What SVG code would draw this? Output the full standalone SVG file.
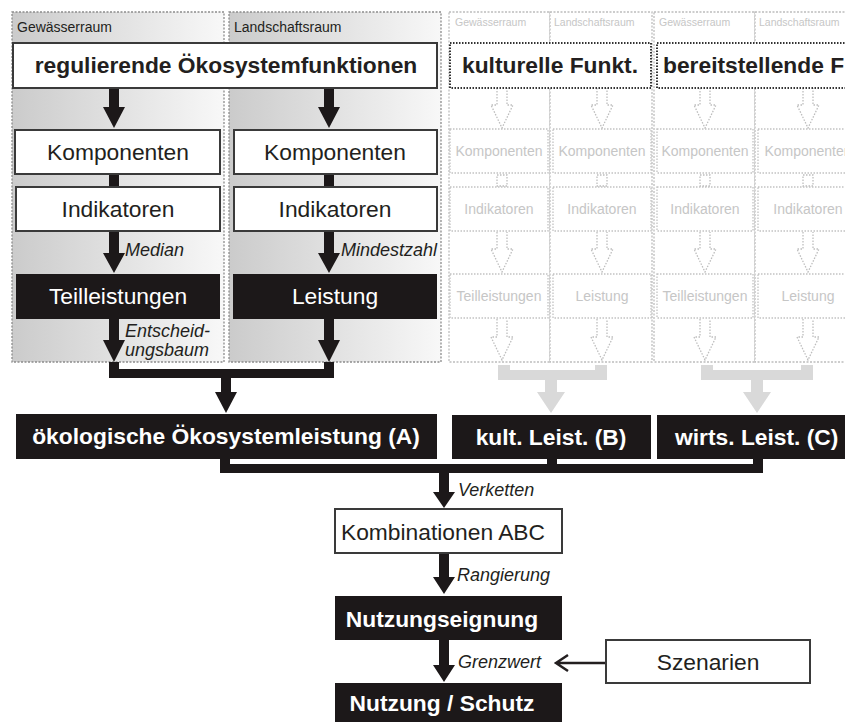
<svg xmlns="http://www.w3.org/2000/svg" width="845" height="722" viewBox="0 0 845 722">
<defs>
<linearGradient id="pg" x1="0" y1="0" x2="1" y2="0">
<stop offset="0" stop-color="#cbcbcb"/>
<stop offset="1" stop-color="#f8f8f8"/>
</linearGradient>
</defs>
<style>
text{font-family:"Liberation Sans",Arial,sans-serif;fill:#231f20}
.b{font-weight:bold}
.w{fill:#ffffff}
.it{font-style:italic;font-size:18px}
.m{font-size:22.8px}
.sm{font-size:14px}
.panel{fill:url(#pg);stroke:#8c8c8c;stroke-width:1.3;stroke-dasharray:2 1.5}
.fpanel{fill:#ffffff;stroke:#bdbdbd;stroke-width:1.3;stroke-dasharray:2 1.5}
.wbox{fill:#ffffff;stroke:#3a3a3a;stroke-width:2}
.kbox{fill:#1c1819}
.fbox{fill:#ffffff;stroke:#c2c2c2;stroke-width:1.3;stroke-dasharray:1.5 1.5}
.tbox{fill:#ffffff;stroke:#333;stroke-width:2;stroke-dasharray:1.5 1.5}
.ft{fill:#c6c6c6;font-size:14px}
.fl{fill:#c6c6c6;font-size:10.5px}
.arr{fill:#1c1819}
.harr{fill:none;stroke:#bdbdbd;stroke-width:1.3;stroke-dasharray:1.5 1.5}
.garr{fill:#d9d9d9}
</style>

<!-- panels -->
<g id="panel-gewaesser">
<rect class="panel" x="12" y="12" width="212" height="350"/>
<text class="sm" x="17" y="32">Gewässerraum</text>
</g>
<g id="panel-landschaft">
<rect class="panel" x="229" y="12" width="212" height="350"/>
<text class="sm" x="234" y="32">Landschaftsraum</text>
</g>
<g id="fpanels">
<rect class="fpanel" x="449" y="12" width="101" height="350"/>
<rect class="fpanel" x="550" y="12" width="102" height="350"/>
<rect class="fpanel" x="654" y="12" width="101" height="350"/>
<rect class="fpanel" x="755" y="12" width="102" height="350"/>
<text class="fl" x="455" y="26">Gewässerraum</text>
<text class="fl" x="554" y="26">Landschaftsraum</text>
<text class="fl" x="659" y="26">Gewässerraum</text>
<text class="fl" x="759" y="26">Landschaftsraum</text>
</g>

<!-- connectors -->
<g id="connectors">
<path class="arr" d="M109 88H119V107H125L114 128L103 107H109Z"/>
<path class="arr" d="M324 88H334V107H340L329 128L318 107H324Z"/>
<rect class="arr" x="109" y="173" width="10" height="15"/>
<rect class="arr" x="324" y="173" width="10" height="15"/>
<path class="arr" d="M109 231H119V253H125L114 273L103 253H109Z"/>
<path class="arr" d="M324 231H334V253H340L329 273L318 253H324Z"/>
<path class="arr" d="M109 319H119V340H125L114 362L103 340H109Z"/>
<path class="arr" d="M324 319H334V340H340L329 362L318 340H324Z"/>
<path class="arr" d="M109 362H119V369H324V362H334V378H231V392H237L226 413L215 392H221V378H109Z"/>
<path class="harr" d="M497 88V105H491L502 128L513 105H507V88"/>
<path class="harr" d="M597 88V105H591L602 128L613 105H607V88"/>
<path class="harr" d="M700 88V105H694L705 128L716 105H710V88"/>
<path class="harr" d="M803 88V105H797L808 128L819 105H813V88"/>
<rect class="harr" x="497" y="175" width="10" height="11"/>
<rect class="harr" x="597" y="175" width="10" height="11"/>
<rect class="harr" x="700" y="175" width="10" height="11"/>
<rect class="harr" x="803" y="175" width="10" height="11"/>
<path class="harr" d="M497 232V249H491L502 272L513 249H507V232"/>
<path class="harr" d="M597 232V249H591L602 272L613 249H607V232"/>
<path class="harr" d="M700 232V249H694L705 272L716 249H710V232"/>
<path class="harr" d="M803 232V249H797L808 272L819 249H813V232"/>
<path class="harr" d="M497 319V337H491L502 360L513 337H507V319"/>
<path class="harr" d="M597 319V337H591L602 360L613 337H607V319"/>
<path class="harr" d="M700 319V337H694L705 360L716 337H710V319"/>
<path class="harr" d="M803 319V337H797L808 360L819 337H813V319"/>
<path class="garr" d="M498 365H510V370H595V365H607V380H557V392H565L551 413L537 392H545V380H498Z"/>
<path class="garr" d="M701 365H713V370H801V365H813V380H763V392H771L757 413L743 392H751V380H701Z"/>
<path class="arr" d="M220 458H230V464H547V458H557V464H753V458H763V473H449V492H455L444 508L433 492H439V473H220Z"/>
<path class="arr" d="M439 553H449V577H455L444 594L433 577H439Z"/>
<path class="arr" d="M439 640H449V665H455L444 682L433 665H439Z"/>
<path d="M606 663H556M568 655L556 663L568 671" fill="none" stroke="#231f20" stroke-width="2.5"/>
<text class="it" x="125" y="256">Median</text>
<text class="it" x="341" y="256">Mindestzahl</text>
<text class="it" x="125" y="337">Entscheid-</text>
<text class="it" x="125" y="356">ungsbaum</text>
<text class="it" x="458" y="496">Verketten</text>
<text class="it" x="457" y="581">Rangierung</text>
<text class="it" x="458" y="668">Grenzwert</text>
</g>

<!-- nodes -->
<g id="regulierende">
<rect class="wbox" x="13" y="43" width="424" height="45"/>
<text class="b m" x="226" y="73" text-anchor="middle">regulierende Ökosystemfunktionen</text>
</g>
<g id="komp-g">
<rect class="wbox" x="15" y="130" width="205" height="44"/>
<text class="m" x="118" y="160" text-anchor="middle">Komponenten</text>
</g>
<g id="komp-l">
<rect class="wbox" x="234" y="130" width="203" height="44"/>
<text class="m" x="335" y="160" text-anchor="middle">Komponenten</text>
</g>
<g id="ind-g">
<rect class="wbox" x="16" y="187" width="204" height="44"/>
<text class="m" x="118" y="217" text-anchor="middle">Indikatoren</text>
</g>
<g id="ind-l">
<rect class="wbox" x="234" y="187" width="203" height="44"/>
<text class="m" x="335" y="217" text-anchor="middle">Indikatoren</text>
</g>
<g id="teil-g">
<rect class="kbox" x="16" y="274" width="204" height="45"/>
<text class="m w" x="118" y="304" text-anchor="middle">Teilleistungen</text>
</g>
<g id="leist-l">
<rect class="kbox" x="233" y="274" width="204" height="45"/>
<text class="m w" x="335" y="304" text-anchor="middle">Leistung</text>
</g>

<g id="kulturelle">
<rect class="tbox" x="450" y="43" width="201" height="45"/>
<text class="b m" x="550" y="73" text-anchor="middle">kulturelle Funkt.</text>
</g>
<g id="bereitstellende">
<rect class="tbox" x="657" y="43" width="210" height="45"/>
<text class="b m" x="663" y="73">bereitstellende F</text>
</g>
<g id="faded-nodes">
<rect class="fbox" x="450" y="129" width="98" height="44"/>
<rect class="fbox" x="553" y="129" width="98" height="44"/>
<rect class="fbox" x="657" y="129" width="96" height="44"/>
<rect class="fbox" x="758" y="129" width="98" height="44"/>
<text class="ft" x="499" y="156" text-anchor="middle">Komponenten</text>
<text class="ft" x="602" y="156" text-anchor="middle">Komponenten</text>
<text class="ft" x="705" y="156" text-anchor="middle">Komponenten</text>
<text class="ft" x="808" y="156" text-anchor="middle">Komponenten</text>
<rect class="fbox" x="450" y="187" width="98" height="44"/>
<rect class="fbox" x="553" y="187" width="98" height="44"/>
<rect class="fbox" x="657" y="187" width="96" height="44"/>
<rect class="fbox" x="758" y="187" width="98" height="44"/>
<text class="ft" x="499" y="214" text-anchor="middle">Indikatoren</text>
<text class="ft" x="602" y="214" text-anchor="middle">Indikatoren</text>
<text class="ft" x="705" y="214" text-anchor="middle">Indikatoren</text>
<text class="ft" x="808" y="214" text-anchor="middle">Indikatoren</text>
<rect class="fbox" x="450" y="274" width="98" height="44"/>
<rect class="fbox" x="553" y="274" width="98" height="44"/>
<rect class="fbox" x="657" y="274" width="96" height="44"/>
<rect class="fbox" x="758" y="274" width="98" height="44"/>
<text class="ft" x="499" y="301" text-anchor="middle">Teilleistungen</text>
<text class="ft" x="602" y="301" text-anchor="middle">Leistung</text>
<text class="ft" x="705" y="301" text-anchor="middle">Teilleistungen</text>
<text class="ft" x="808" y="301" text-anchor="middle">Leistung</text>
</g>

<g id="oekol-A">
<rect class="kbox" x="16" y="414" width="421" height="45"/>
<text class="b m w" x="226" y="444" text-anchor="middle">ökologische Ökosystemleistung (A)</text>
</g>
<g id="kult-B">
<rect class="kbox" x="452" y="415" width="199" height="44"/>
<text class="b m w" x="551" y="445" text-anchor="middle">kult. Leist. (B)</text>
</g>
<g id="wirts-C">
<rect class="kbox" x="657" y="415" width="195" height="44"/>
<text class="b m w" x="675" y="445">wirts. Leist. (C)</text>
</g>
<g id="kombinationen">
<rect class="wbox" x="335" y="509" width="227" height="44"/>
<text class="m" x="443" y="540" text-anchor="middle">Kombinationen ABC</text>
</g>
<g id="nutzungseignung">
<rect class="kbox" x="335" y="596" width="227" height="44"/>
<text class="b m w" x="442" y="627" text-anchor="middle">Nutzungseignung</text>
</g>
<g id="szenarien">
<rect class="wbox" x="606" y="640" width="204" height="43"/>
<text class="m" x="708" y="670" text-anchor="middle">Szenarien</text>
</g>
<g id="nutzung-schutz">
<rect class="kbox" x="335" y="683" width="227" height="39"/>
<text class="b m w" x="442" y="711" text-anchor="middle">Nutzung / Schutz</text>
</g>
</svg>
